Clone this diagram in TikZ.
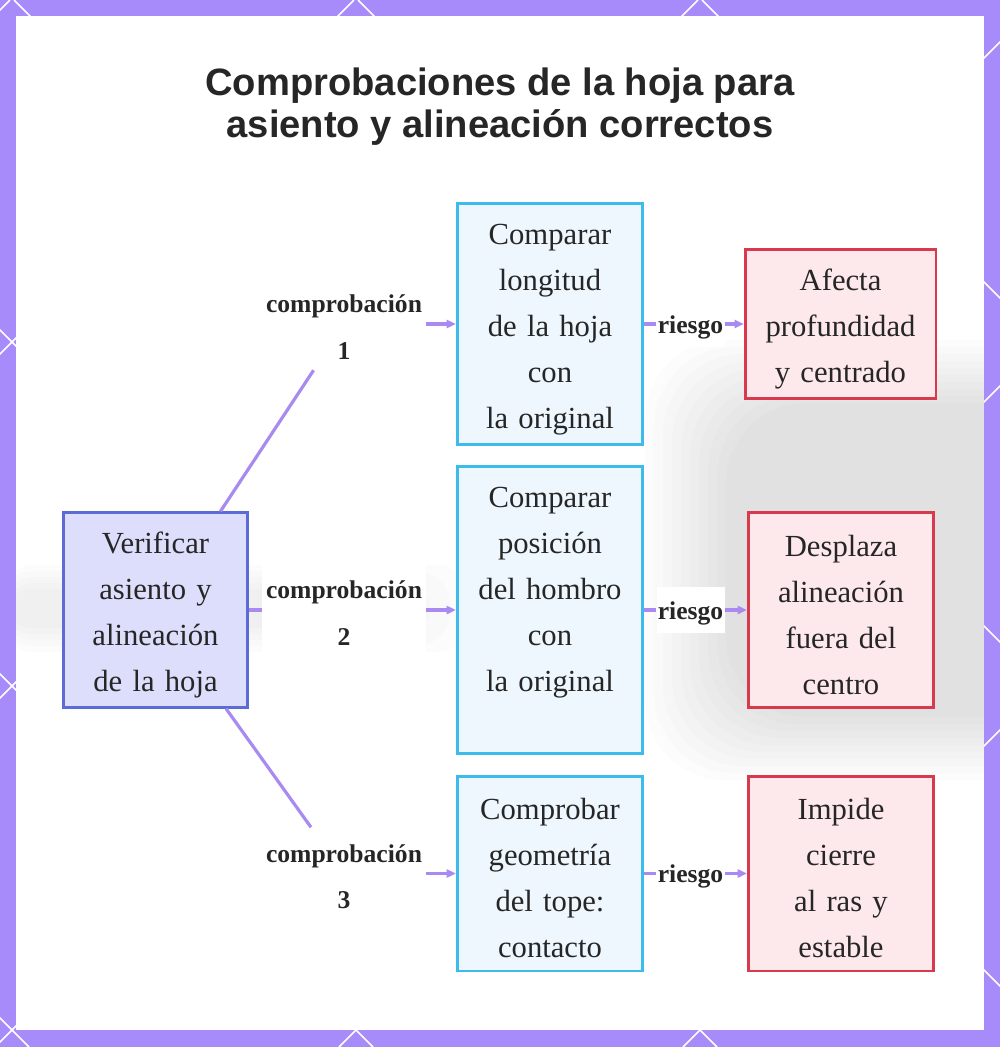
\documentclass[tikz,border=0pt]{standalone}
\usepackage{fontspec}
\setmainfont{Liberation Serif}
\newfontfamily\titlefont{Liberation Sans}
\usetikzlibrary{arrows.meta}
\definecolor{violetframe}{HTML}{A78BFA}
\definecolor{branchviolet}{HTML}{A98AF0}
\definecolor{rootfill}{HTML}{DDDEFB}
\definecolor{rootdraw}{HTML}{5C6CD4}
\definecolor{checkfill}{HTML}{EEF7FD}
\definecolor{checkdraw}{HTML}{3DBBEA}
\definecolor{riskfill}{HTML}{FDE8EB}
\definecolor{riskdraw}{HTML}{D8394D}
\definecolor{inkgray}{HTML}{262626}

\begin{document}
\begin{tikzpicture}[x=0.75pt,y=-0.75pt,
  boxtext/.style={align=center,text=inkgray,line width=2pt,inner sep=2pt,
                  font=\fontsize{23pt}{34.5pt}\selectfont,text height=23pt},
  rootbox/.style={boxtext,draw=rootdraw,fill=rootfill,text width=132pt,
                  minimum width=138pt,minimum height=146pt},
  checkbox/.style={boxtext,draw=checkdraw,fill=checkfill,text width=133pt,
                   minimum width=139pt},
  riskbox/.style={boxtext,draw=riskdraw,fill=riskfill,text width=133pt,
                  minimum width=139pt},
  branchlabel/.style={fill=white,text=inkgray,align=center,inner ysep=0pt,
                      font=\bfseries\fontsize{19.2pt}{35pt}\selectfont,
                      text height=18pt},
  checklabel/.style={branchlabel,text width=117pt,inner xsep=3pt,minimum height=69pt},
  risklabel/.style={branchlabel,text width=49pt,inner xsep=1pt,minimum height=34.5pt},
  branch/.style={branchviolet,line width=2.4pt},
  branchtip/.style={branch,-{Triangle[length=7pt,width=6pt]}}]
\useasboundingbox (0,0) rectangle (1000,1047);

% frame and background
\fill[violetframe] (0,0) rectangle (1000,1047);
\fill[white] (16,16) rectangle (984,1030);
\begin{scope}[even odd rule]
  \clip (0,0) rectangle (1000,1047) (16,16) rectangle (984,1030);
  \foreach \k in {-3,...,5}{
    \draw[white,line width=1.1pt] (354+344*\k,0) -- (354+344*\k-1047,1047);
    \draw[white,line width=1.1pt] (14+344*\k,0) -- (14+344*\k+1047,1047);
  }
\end{scope}
\begin{scope}
  \clip (16,16) rectangle (984,1030);
  \foreach \i in {0,...,9}
    \fill[black,opacity=0.011,rounded corners=60pt]
      (645+\i*9,340+\i*7) rectangle (1060,780-\i*7);
  \foreach \i in {0,...,4}
    \fill[black,opacity=0.01,rounded corners=25pt]
      (0,565+\i*6) rectangle (470-\i*20,652-\i*6);
\end{scope}

% title
\node[font=\titlefont\bfseries\fontsize{28.6pt}{31.5pt}\selectfont,align=center,
      text=inkgray] (title) at (500,107)
  {Comprobaciones de la hoja para\\asiento y alineación correctos};

% root and checks
\node[rootbox] (root) at (155.5,610) {Verificar\\asiento y\\alineación\\de la hoja};

\node[checkbox,minimum height=181pt] (b1) at (550,324)
  {Comparar\\longitud\\de la hoja\\con\\la original};
\node[checkbox,minimum height=215.5pt,text height=18pt] (b2) at (550,610)
  {Comparar\\posición\\del hombro\\con\\la original\\~};
\node[checkbox,minimum height=146pt] (b3) at (550,873.5)
  {Comprobar\\geometría\\del tope:\\contacto};

% risks
\node[riskbox,minimum width=143pt,minimum height=112pt] (r1) at (840.5,324)
  {Afecta\\profundidad\\y centrado};
\node[riskbox,minimum height=146pt] (r2) at (841,610)
  {Desplaza\\alineación\\fuera del\\centro};
\node[riskbox,minimum height=146pt] (r3) at (841,873.5)
  {Impide\\cierre\\al ras y\\estable};

% labels
\node[checklabel] (chk1) at (344,324) {comprobación\\1};
\node[checklabel] (chk2) at (344,610) {comprobación\\2};
\node[checklabel] (chk3) at (344,873.5) {comprobación\\3};
\node[risklabel] (risk1) at (690.5,324) {riesgo};
\node[risklabel] (risk2) at (690.5,610) {riesgo};
\node[risklabel] (risk3) at (690.5,873.5) {riesgo};

% connectors
\foreach \n in {1,2,3}{
  \draw[branch] (root) -- (chk\n);
  \draw[branchtip] (chk\n) -- (b\n);
  \draw[branch] (b\n) -- (risk\n);
  \draw[branchtip] (risk\n) -- (r\n);
}
\end{tikzpicture}
\end{document}
